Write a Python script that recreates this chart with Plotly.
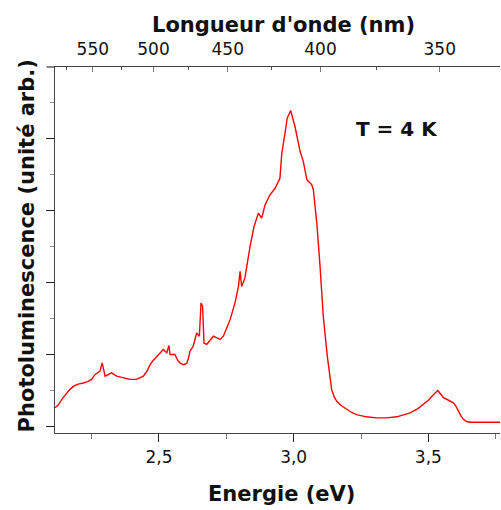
import plotly.graph_objects as go

# Photoluminescence spectrum at 4 K (energy in eV, intensity in arbitrary units)
energy_ev = [
    2.114, 2.125, 2.140, 2.155, 2.170, 2.185, 2.200, 2.219, 2.235, 2.250,
    2.262, 2.281, 2.289, 2.300, 2.324, 2.343, 2.370, 2.392, 2.417, 2.442,
    2.455, 2.467, 2.480, 2.492, 2.505, 2.516, 2.529, 2.537, 2.541, 2.559,
    2.570, 2.578, 2.590, 2.603, 2.610, 2.615, 2.627, 2.640, 2.650, 2.656,
    2.662, 2.667, 2.677, 2.690, 2.702, 2.727, 2.739, 2.750, 2.764, 2.782,
    2.795, 2.801, 2.807, 2.819, 2.828, 2.838, 2.853, 2.869, 2.881, 2.894,
    2.912, 2.931, 2.949, 2.956, 2.968, 2.976, 2.989, 3.005, 3.024, 3.036,
    3.049, 3.067, 3.073, 3.086, 3.098, 3.110, 3.125, 3.135, 3.141, 3.150,
    3.160, 3.175, 3.197, 3.215, 3.234, 3.270, 3.308, 3.345, 3.383, 3.410,
    3.432, 3.460, 3.481, 3.500, 3.513, 3.525, 3.535, 3.545, 3.556, 3.575,
    3.593, 3.603, 3.611, 3.620, 3.630, 3.642, 3.655, 3.700, 3.766,
]
intensity = [
    0.51, 0.58, 0.75, 0.90, 1.03, 1.12, 1.17, 1.20, 1.24, 1.30,
    1.43, 1.53, 1.76, 1.39, 1.48, 1.39, 1.33, 1.30, 1.30, 1.39,
    1.52, 1.71, 1.84, 1.94, 2.05, 2.13, 2.04, 2.24, 1.99, 1.99,
    1.82, 1.76, 1.71, 1.74, 1.90, 2.08, 2.22, 2.59, 2.50, 3.42,
    3.33, 2.31, 2.27, 2.40, 2.50, 2.41, 2.50, 2.70, 2.96, 3.42,
    3.88, 4.30, 3.88, 4.12, 4.55, 4.99, 5.55, 5.92, 5.78, 6.15,
    6.43, 6.61, 6.89, 7.59, 8.14, 8.56, 8.77, 8.32, 7.63, 7.35,
    6.85, 6.71, 6.57, 5.64, 4.44, 3.05, 1.94, 1.30, 1.02, 0.82,
    0.69, 0.58, 0.46, 0.38, 0.32, 0.26, 0.23, 0.23, 0.26, 0.31,
    0.37, 0.48, 0.60, 0.72, 0.83, 0.92, 0.99, 0.90, 0.79, 0.72,
    0.65, 0.55, 0.42, 0.30, 0.19, 0.13, 0.11, 0.11, 0.11,
]

# Bottom axis ticks (energy)
energy_ticks = [2.5, 3.0, 3.5]
energy_labels = ["2,5", "3,0", "3,5"]
energy_minor = [2.25, 2.75, 3.25, 3.75]

# Top axis ticks (wavelength, nm)
wavelength_ticks = [550, 500, 450, 400, 350]
wavelength_minor = [575, 525, 475, 425, 375]
HC = 1239.84  # eV * nm

x_range = [2.114, 3.766]
y_range = [-0.19, 9.98]

AXIS_COLOR = "#444444"
TICK_FONT = dict(family="DejaVu Sans", size=17, color="#111111")
TITLE_FONT = dict(family="DejaVu Sans", size=21, color="#111111")

fig = go.Figure()
fig.add_trace(go.Scatter(
    x=energy_ev, y=intensity, mode="lines",
    line=dict(color="#ff0000", width=1.4),
    hoverinfo="skip", showlegend=False,
))
# invisible trace so the wavelength axis gets drawn
fig.add_trace(go.Scatter(
    x=[energy_ev[0]], y=[intensity[0]], xaxis="x2", mode="markers",
    marker=dict(opacity=0), hoverinfo="skip", showlegend=False,
))

fig.update_layout(
    width=501, height=510,
    margin=dict(l=55, r=1, t=67, b=77),
    paper_bgcolor="white", plot_bgcolor="white",
    showlegend=False,
    xaxis=dict(
        range=x_range, showgrid=False, zeroline=False,
        showline=True, linecolor=AXIS_COLOR, linewidth=1.3, mirror=False,
        tickmode="array", tickvals=energy_ticks, ticktext=energy_labels,
        ticks="outside", ticklen=8, tickwidth=1.3, tickcolor="#222222",
        minor=dict(tickmode="array", tickvals=energy_minor, ticks="outside",
                   ticklen=5, tickwidth=1.3, tickcolor="#777777"),
        tickfont=TICK_FONT, ticklabelstandoff=0,
    ),
    xaxis2=dict(
        overlaying="x", side="top", anchor="y",
        range=x_range, showgrid=False, zeroline=False,
        showline=True, linecolor=AXIS_COLOR, linewidth=1.3,
        tickmode="array",
        tickvals=[HC / w for w in wavelength_ticks],
        ticktext=[str(w) for w in wavelength_ticks],
        ticks="inside", ticklen=5, tickwidth=1.3, tickcolor="#777777",
        minor=dict(tickmode="array", tickvals=[HC / w for w in wavelength_minor],
                   ticks="inside", ticklen=3, tickwidth=1.3, tickcolor="#555555"),
        tickfont=TICK_FONT, ticklabelstandoff=4,
    ),
    yaxis=dict(
        range=y_range, showgrid=False, zeroline=False,
        showline=True, linecolor=AXIS_COLOR, linewidth=1.3,
        showticklabels=False,
        tick0=0, dtick=2, ticks="outside", ticklen=8, tickwidth=1.3,
        tickcolor="#222222",
        minor=dict(tick0=1, dtick=2, ticks="outside", ticklen=4,
                   tickwidth=1.3, tickcolor="#888888"),
    ),
    shapes=[dict(type="line", xref="paper", yref="paper",
                 x0=-0.019, x1=0, y0=1, y1=1,
                 line=dict(color=AXIS_COLOR, width=1.3))],
    annotations=[
        dict(text="<b>Longueur d'onde (nm)</b>", xref="paper", yref="paper",
             x=0.5124, y=1.1148, xanchor="center", yanchor="middle",
             showarrow=False, font=TITLE_FONT),
        dict(text="<b>Energie (eV)</b>", xref="paper", yref="paper",
             x=0.5094, y=-0.1667, xanchor="center", yanchor="middle",
             showarrow=False, font=TITLE_FONT),
        dict(text="<b>Photoluminescence (unité arb.)</b>", xref="paper", yref="paper",
             x=-0.062, y=0.511, xanchor="center", yanchor="middle",
             textangle=-90, showarrow=False, font=TITLE_FONT),
        dict(text="<b>T = 4 K</b>", xref="x", yref="y",
             x=3.383, y=8.25, xanchor="center", yanchor="middle",
             showarrow=False,
             font=dict(family="DejaVu Sans", size=20, color="#111111")),
    ],
)

fig.write_html("out.html")
